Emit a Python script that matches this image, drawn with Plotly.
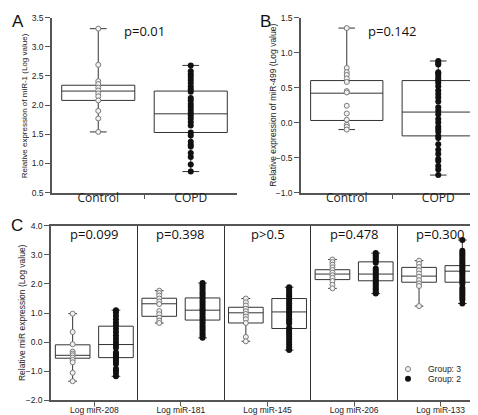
import plotly.graph_objects as go

W, H = 478, 415

# ---------------- Panel A: miR-1 ----------------
a_categories = ["Control", "COPD"]
a_control_pts = [3.31, 2.69, 2.41, 2.36, 2.30, 2.25, 2.20, 2.15, 2.08, 1.90, 1.77, 1.54]
a_copd_pts = [2.68, 2.58, 2.53, 2.48, 2.43, 2.38, 2.32, 2.27, 2.23, 2.12, 2.08, 2.02,
              1.97, 1.92, 1.87, 1.82, 1.77, 1.71, 1.65, 1.53, 1.48, 1.37, 1.32, 1.29,
              1.18, 1.11, 0.98, 0.86]
# q1, median, q3, lowerfence, upperfence
a_control_box = [2.08, 2.24, 2.34, 1.54, 3.31]
a_copd_box = [1.53, 1.85, 2.24, 0.86, 2.68]
a_p = "p=0.01"

# ---------------- Panel B: miR-499 ----------------
b_categories = ["Control", "COPD"]
b_control_pts = [1.35, 0.78, 0.72, 0.68, 0.63, 0.58, 0.45, 0.43, 0.24, 0.13, 0.04, -0.03, -0.06, -0.10]
b_copd_pts = [0.88, 0.85, 0.83, 0.72, 0.70, 0.67, 0.63, 0.60, 0.57, 0.52, 0.46, 0.41, 0.36,
              0.30, 0.22, 0.17, 0.12, 0.05, 0.00, -0.06, -0.09, -0.13, -0.19, -0.22, -0.31,
              -0.39, -0.45, -0.52, -0.55, -0.62, -0.67, -0.75]
b_control_box = [0.03, 0.42, 0.60, -0.10, 1.35]
b_copd_box = [-0.19, 0.15, 0.60, -0.75, 0.88]
b_p = "p=0.142"

# ---------------- Panel C: five miRNAs, two groups ----------------
c_categories = ["Log miR-208", "Log miR-181", "Log miR-145", "Log miR-206", "Log miR-133"]
c_pvalues = ["p=0.099", "p=0.398", "p>0.5", "p=0.478", "p=0.300"]
c_group3_pts = [
    [0.98, 0.35, -0.07, -0.32, -0.39, -0.45, -0.53, -0.61, -0.69, -1.05, -1.34],
    [1.77, 1.69, 1.60, 1.50, 1.40, 1.31, 1.07, 0.96, 0.84, 0.74, 0.66],
    [1.50, 1.37, 1.26, 1.15, 1.06, 0.97, 0.88, 0.79, 0.66, 0.18, 0.03],
    [2.84, 2.75, 2.66, 2.57, 2.48, 2.39, 2.30, 2.21, 2.10, 1.97, 1.85],
    [2.80, 2.69, 2.58, 2.47, 2.36, 2.25, 2.13, 2.02, 1.93, 1.24],
]
c_group2_pts = [
    [1.10, 1.02, 0.91, 0.79, 0.68, 0.57, 0.46, 0.35, 0.23, 0.12, 0.01, -0.10, -0.19,
     -0.35, -0.41, -0.48, -0.55, -0.61, -0.68, -0.75, -0.91, -0.97, -1.06, -1.17],
    [2.03, 1.96, 1.88, 1.80, 1.72, 1.64, 1.56, 1.49, 1.41, 1.33, 1.25, 1.17, 1.10,
     1.02, 0.94, 0.86, 0.78, 0.70, 0.63, 0.55, 0.47, 0.39, 0.31, 0.23, 0.15],
    [1.89, 1.81, 1.73, 1.65, 1.58, 1.50, 1.42, 1.34, 1.26, 1.18, 1.11, 1.03, 0.95,
     0.87, 0.79, 0.72, 0.64, 0.50, 0.42, 0.35, 0.27, 0.19, 0.10, 0.01, -0.08, -0.17, -0.27],
    [3.06, 2.99, 2.93, 2.86, 2.79, 2.73, 2.53, 2.46, 2.39, 2.32, 2.26, 2.19, 2.12,
     2.06, 1.99, 1.92, 1.85, 1.79, 1.72, 1.67],
    [3.51, 3.14, 3.07, 3.01, 2.94, 2.87, 2.80, 2.74, 2.67, 2.60, 2.54, 2.47, 2.40,
     2.34, 2.27, 2.20, 2.13, 2.07, 2.00, 1.87, 1.80, 1.73, 1.67, 1.60, 1.53, 1.46, 1.33],
]
# q1, median, q3, lowerfence, upperfence
c_group3_box = [
    [-0.55, -0.45, -0.09, -1.34, 0.98],
    [0.89, 1.32, 1.51, 0.66, 1.77],
    [0.66, 1.01, 1.20, 0.03, 1.50],
    [2.15, 2.34, 2.49, 1.85, 2.84],
    [2.06, 2.27, 2.57, 1.24, 2.80],
]
c_group2_box = [
    [-0.53, -0.08, 0.55, -1.17, 1.10],
    [0.76, 1.10, 1.52, 0.15, 2.03],
    [0.47, 1.04, 1.50, -0.27, 1.89],
    [2.11, 2.34, 2.76, 1.67, 3.06],
    [2.06, 2.44, 2.63, 1.33, 3.51],
]
legend_names = ["Group: 3", "Group: 2"]

BOX_LINE = "#333333"
AXIS_COL = "#555555"
HOLLOW = dict(color="#f2f2f2", size=5, line=dict(color="#7a7a7a", width=1))
FILLED = dict(color="#111111", size=6, line=dict(color="#111111", width=0))

fig = go.Figure()


def add_box(xa, ya, pos, stats, width, ww):
    q1, med, q3, lo, hi = stats
    fig.add_trace(go.Box(
        x=[pos], q1=[q1], median=[med], q3=[q3], lowerfence=[lo], upperfence=[hi],
        width=width, whiskerwidth=ww, boxpoints=False,
        fillcolor="rgba(255,255,255,0)", line=dict(color=BOX_LINE, width=1),
        xaxis=xa, yaxis=ya, showlegend=False, hoverinfo="skip"))


def add_pts(xa, ya, pos, vals, marker, name=None, show=False, legend="legend"):
    fig.add_trace(go.Scatter(
        x=[pos] * len(vals), y=vals, mode="markers", marker=marker,
        xaxis=xa, yaxis=ya, name=name, showlegend=show, legend=legend,
        cliponaxis=False, hoverinfo="skip"))


# Panel A
add_box("x", "y", 0.5, a_control_box, 0.79, 0.23)
add_box("x", "y", 1.5, a_copd_box, 0.79, 0.23)
add_pts("x", "y", 0.5, a_control_pts, HOLLOW)
add_pts("x", "y", 1.5, a_copd_pts, FILLED)
# Panel B
add_box("x2", "y2", 0.5, b_control_box, 0.79, 0.23)
add_box("x2", "y2", 1.5, b_copd_box, 0.79, 0.23)
add_pts("x2", "y2", 0.5, b_control_pts, HOLLOW)
add_pts("x2", "y2", 1.5, b_copd_pts, FILLED)
# Panel C
for i in range(len(c_categories)):
    add_box("x3", "y3", i + 0.25, c_group3_box[i], 0.40, 0.25)
    add_box("x3", "y3", i + 0.75, c_group2_box[i], 0.40, 0.25)
for i in range(len(c_categories)):
    add_pts("x3", "y3", i + 0.25, c_group3_pts[i], HOLLOW, legend_names[0], i == 0, "legend")
    add_pts("x3", "y3", i + 0.75, c_group2_pts[i], FILLED, legend_names[1], i == 0, "legend2")


def px_x(p):
    return p / W


def px_y(p):
    return 1 - p / H


yaxis_common = dict(showline=True, linecolor=AXIS_COL, linewidth=1.5, ticks="outside",
                    ticklen=5, tickcolor=AXIS_COL, tickwidth=1, showgrid=False, zeroline=False,
                    tickformat=".1f",
                    tickfont=dict(family="Liberation Sans, Arial", size=8.5, color="#222"))

legend_common = dict(xanchor="left", yanchor="top", bgcolor="rgba(0,0,0,0)", borderwidth=0,
                     font=dict(family="Liberation Sans, Arial", size=8.5, color="#222"),
                     itemwidth=30)

fig.update_layout(
    width=W, height=H, margin=dict(l=0, r=0, t=0, b=0),
    paper_bgcolor="white", plot_bgcolor="white",
    boxmode="overlay",
    xaxis=dict(domain=[px_x(44), px_x(229)], range=[0, 2], anchor="y",
               tickmode="array", tickvals=[0.5, 1.5], ticktext=a_categories, ticks="",
               ticklabelstandoff=-7,
               showline=True, linecolor=AXIS_COL, linewidth=1.5, showgrid=False, zeroline=False,
               minor=dict(tickmode="array", tickvals=[1], ticks="outside", ticklen=5,
                          tickcolor=AXIS_COL, showgrid=False),
               tickfont=dict(family="Open Sans", size=12, color="#222")),
    yaxis=dict(domain=[px_y(184), px_y(4.7)], range=[0.5, 3.5], dtick=0.5, anchor="x",
               **yaxis_common),
    xaxis2=dict(domain=[px_x(293), px_x(476)], range=[0, 2], anchor="y2",
                tickmode="array", tickvals=[0.5, 1.5], ticktext=b_categories, ticks="",
                ticklabelstandoff=-7,
                showline=True, linecolor=AXIS_COL, linewidth=1.5, showgrid=False, zeroline=False,
                minor=dict(tickmode="array", tickvals=[1], ticks="outside", ticklen=5,
                           tickcolor=AXIS_COL, showgrid=False),
                tickfont=dict(family="Open Sans", size=12, color="#222")),
    yaxis2=dict(domain=[px_y(184), px_y(4.7)], range=[-1.0, 1.5], dtick=0.5, anchor="x2",
                **yaxis_common),
    xaxis3=dict(domain=[px_x(43), px_x(476)], range=[0, 5], anchor="y3",
                tickmode="array", tickvals=[0.5, 1.5, 2.5, 3.5, 4.5], ticktext=c_categories,
                ticks="outside", ticklen=4, tickcolor=AXIS_COL, ticklabelstandoff=-3,
                showline=True, linecolor=AXIS_COL, linewidth=1.5, mirror=True,
                showgrid=False, zeroline=False,
                minor=dict(tickmode="array", tickvals=[1, 2, 3, 4], ticks="",
                           showgrid=True, gridcolor="#333", gridwidth=1),
                tickfont=dict(family="Liberation Sans, Arial", size=8.5, color="#222")),
    yaxis3=dict(domain=[px_y(397), px_y(218)], range=[-2.0, 4.0], dtick=1, anchor="x3",
                mirror=True, **yaxis_common),
    showlegend=True,
    legend=dict(x=px_x(380), y=px_y(350), **legend_common),
    legend2=dict(x=px_x(380), y=px_y(360), **legend_common),
)

ann = []
# panel letters
for txt, x, y in [("A", 2, -3), ("B", 250, -3), ("C", 1, 206)]:
    ann.append(dict(text=txt, x=px_x(x), y=px_y(y), xref="paper", yref="paper",
                    xanchor="left", yanchor="top", showarrow=False,
                    font=dict(family="Liberation Sans, Arial", size=17, color="#111")))
# y-axis titles
for txt, x, y, s in [("Relative expression of miR-1 (Log value)", 16, 95.5, 8),
                     ("Relative expression of miR-499 (Log value)", 265, 95, 8.5),
                     ("Relative miR expression (Log value)", 14, 307.5, 8.5)]:
    ann.append(dict(text=txt, x=px_x(x), y=px_y(y), xref="paper", yref="paper",
                    xanchor="center", yanchor="middle", textangle=-90, showarrow=False,
                    font=dict(family="Liberation Sans, Arial", size=s, color="#222")))
# p-values
pfont = dict(family="Open Sans", size=13, color="#111")
ann.append(dict(text=a_p, x=1.0, y=px_y(18), xref="x", yref="paper", showarrow=False,
                xanchor="center", yanchor="middle", font=pfont))
ann.append(dict(text=b_p, x=1.0, y=px_y(18), xref="x2", yref="paper", showarrow=False,
                xanchor="center", yanchor="middle", font=pfont))
for i, p in enumerate(c_pvalues):
    ann.append(dict(text=p, x=i + 0.5, y=px_y(226), xref="x3", yref="paper", showarrow=False,
                    xanchor="center", yanchor="middle", font=pfont))
fig.update_layout(annotations=ann)

fig.write_html("out.html")
